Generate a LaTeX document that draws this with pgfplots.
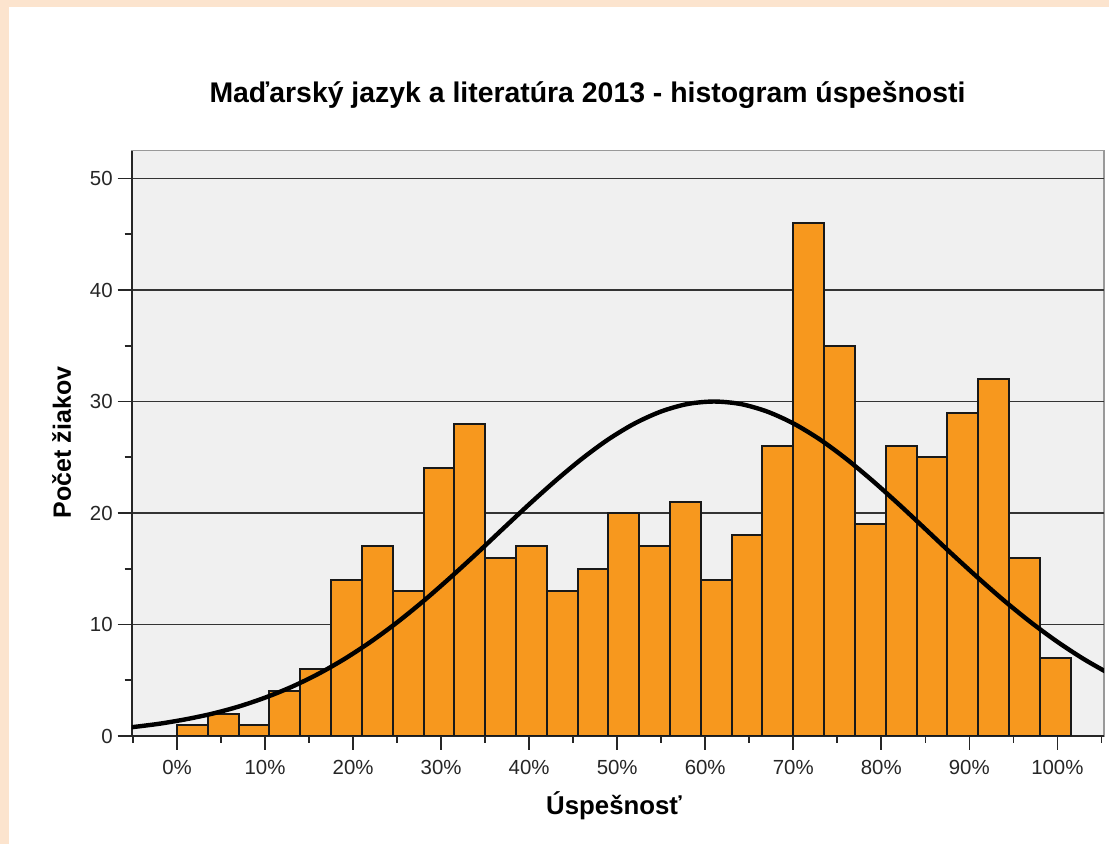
\documentclass[border=0pt]{standalone}
\usepackage{fontspec}
\setmainfont{Liberation Sans}
\usepackage{pgfplots}
\pgfplotsset{compat=1.18}

\definecolor{peach}{RGB}{252,228,206}
\definecolor{plotbg}{RGB}{240,240,240}
\definecolor{barorange}{RGB}{247,152,30}

\begin{document}
\begin{tikzpicture}
% page = 1109 x 844 px at 0.5pt per px
\useasboundingbox (0,0) rectangle (554.5pt,422pt);
\fill[peach] (0,0) rectangle (554.5pt,422pt);
\fill[white] (4.25pt,0) rectangle (554.5pt,418.5pt);

\begin{axis}[
    at={(65.85pt,54pt)}, anchor=south west,
    scale only axis,
    width=486.15pt, height=292.65pt,
    xmin=-5.15, xmax=105.3,
    ymin=0, ymax=52.5,
    axis lines*=left,
    axis background/.style={fill=plotbg, draw=black!40, line width=0.8pt},
    axis line style={black!85, line width=0.8pt},
    xtick={0,10,...,100},
    xticklabels={0\%,10\%,20\%,30\%,40\%,50\%,60\%,70\%,80\%,90\%,100\%},
    minor xtick={-5,5,...,105},
    ytick={0,10,...,50},
    minor ytick={5,15,...,45},
    tick align=outside,
    major tick length=7pt,
    minor tick length=3.5pt,
    tick style={black!85, line width=0.8pt},
    ymajorgrids,
    major grid style={black!80, line width=0.75pt},
    ticklabel style={font=\fontsize{10.2}{12}\selectfont, text=black!85},
    xticklabel style={yshift=-1.5pt},
    yticklabel style={xshift=1pt},
    /pgf/number format/assume math mode=true,
    clip=true,
]

% histogram counts, bins of 3.5 %
\addplot[ybar interval, fill=barorange, draw=black!90, line width=1pt] coordinates {
(0,1) (3.5,2) (7,1) (10.5,4) (14,6) (17.5,14) (21,17) (24.5,13) (28,24) (31.5,28)
(35,16) (38.5,17) (42,13) (45.5,15) (49,20) (52.5,17) (56,21) (59.5,14) (63,18)
(66.5,26) (70,46) (73.5,35) (77,19) (80.5,26) (84,25) (87.5,29) (91,32) (94.5,16)
(98,7) (101.5,7)
};

% fitted normal curve
\addplot[black, line width=2.2pt, smooth] coordinates {
(-6,0.71) (-5,0.80) (-2,1.10) (1,1.50) (4,2.00) (7,2.64) (10,3.44) (13,4.40)
(16,5.55) (19,6.90) (22,8.45) (25,10.19) (28,12.11) (31,14.18) (34,16.34)
(37,18.57) (40,20.78) (43,22.90) (46,24.87) (49,26.61) (52,28.04) (55,29.11)
(58,29.78) (61,30.00) (64,29.78) (67,29.11) (70,28.04) (73,26.61) (76,24.87)
(79,22.90) (82,20.78) (85,18.57) (88,16.34) (91,14.18) (94,12.11) (97,10.19)
(100,8.45) (103,6.90) (106,5.55) (107,5.15)
};
\end{axis}

\node[anchor=base, font=\fontsize{14.2}{17}\selectfont\bfseries] at (293.75pt,370.5pt)
  {Maďarský jazyk a literatúra 2013 - histogram úspešnosti};
\node[anchor=base, font=\fontsize{12.9}{15}\selectfont\bfseries] at (307pt,14.5pt)
  {Úspešnosť};
\node[anchor=base, rotate=90, font=\fontsize{12.5}{15}\selectfont\bfseries] at (35.5pt,200.75pt)
  {Počet žiakov};
\end{tikzpicture}
\end{document}
